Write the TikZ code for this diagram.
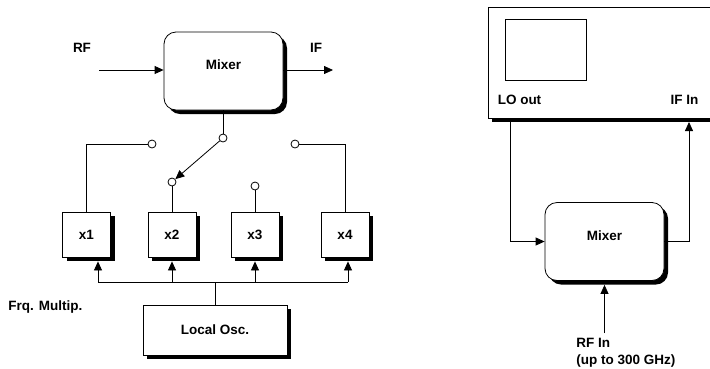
\documentclass[tikz,border=0pt]{standalone}
\usepackage{fontspec}
\setmainfont{Liberation Sans}
\usetikzlibrary{arrows.meta, positioning, calc, shadows}

\begin{document}
\begin{tikzpicture}[x=1pt, y=-1pt, line width=0.8pt,
    lbl/.style={font=\bfseries\fontsize{13.5}{17}\selectfont, inner sep=0pt},
    shadebox/.style={draw, fill=white, font=\bfseries\fontsize{13.5}{17}\selectfont,
        drop shadow={shadow xshift=4pt, shadow yshift=-4pt, fill=black, opacity=1}},
    mixer/.style={shadebox, rounded corners=12pt, minimum width=119pt, minimum height=78pt, text depth=12pt},
    multbox/.style={shadebox, minimum width=48pt, minimum height=45pt},
    port/.style={circle, draw, fill=white, minimum size=8pt, inner sep=0pt},
    feed/.style={-{Triangle[length=9pt, width=8pt]}}]
    \path[use as bounding box, clip] (0,0) rectangle (710,368);

    % left: mixer with switched multiplier chain
    \node[mixer] (mixL) at (223.5,71) {Mixer};
    \node[lbl] (rfLbl) at (82,48) {RF};
    \node[lbl] (ifLbl) at (316,48) {IF};
    \coordinate (rfL) at (99,70);
    \coordinate (ifL) at (333,70);
    \draw[feed] (rfL) -- (rfL -| mixL.west);
    \draw[feed] (ifL -| mixL.east) -- (ifL);

    \node[port] (swC) at (223,138) {};
    \node[port] (sw1) at (152,144) {};
    \node[port] (sw2) at (172,182) {};
    \node[port] (sw3) at (255,186) {};
    \node[port] (sw4) at (295,144) {};
    \draw (mixL.south -| swC) -- (swC);
    \draw[feed] (swC) -- (sw2);

    \node[multbox] (m1) at (86.5,234.5) {x1};
    \node[multbox] (m2) at (172,234.5) {x2};
    \node[multbox] (m3) at (255,234.5) {x3};
    \node[multbox] (m4) at (345,234.5) {x4};
    \draw (sw1) -| (m1);
    \draw (sw4) -| (m4);
    \draw (sw2) -- (m2);
    \draw (sw3) -- (m3);

    \node[shadebox, minimum width=144pt, minimum height=50pt] (losc) at (215,330) {Local Osc.};
    \coordinate (busW) at (98,282);
    \coordinate (busE) at (348,282);
    \draw (busW) -- (busE);
    \draw (losc.north) -- (losc.north |- busW);
    \draw[feed, shorten >=4pt] (busW) -- (busW |- m1.south);
    \draw[feed, shorten >=4pt] (m2.south |- busW) -- (m2.south);
    \draw[feed, shorten >=4pt] (m3.south |- busW) -- (m3.south);
    \draw[feed, shorten >=4pt] (busE) -- (busE |- m4.south);
    \node[lbl, anchor=west] (multLbl) at (8,307) {Frq. Multip.};

    % right: analyser with external mixer
    \node[shadebox, minimum width=226pt, minimum height=111pt] (vna) at (601,62.5) {};
    \node[draw, line width=0.5pt, minimum width=81pt, minimum height=61pt, inner sep=0pt] (screen) at (545.5,49.5) {};
    \node[lbl] (loLbl) at (519.5,100) {LO out};
    \node[lbl] (ifInLbl) at (684.5,100) {IF In};
    \node[mixer] (mixR) at (604.5,241.5) {Mixer};
    \coordinate (loPort) at (510,118);
    \coordinate (ifPort) at (689,118);
    \coordinate (rfPort) at (604.5,333);
    \draw[feed] (loPort) |- (mixR.west);
    \draw[feed, shorten >=4pt] (mixR.east) -| (ifPort);
    \draw[feed, shorten >=4pt] (rfPort) -- (mixR.south);
    \node[lbl, align=left, anchor=north west] (rfInLbl) at (576,338) {RF In\\(up to 300 GHz)};
\end{tikzpicture}
\end{document}
